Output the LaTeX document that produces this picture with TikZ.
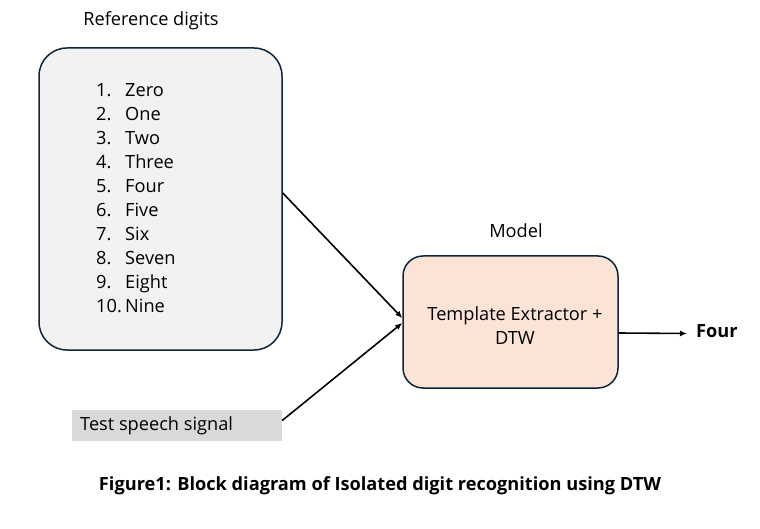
\documentclass[tikz,border=0pt]{standalone}
\usepackage{fontspec}
\setmainfont{Open Sans}
\usetikzlibrary{arrows.meta,calc}
\definecolor{edge}{HTML}{10253A}
\definecolor{refgray}{HTML}{F2F2F2}
\definecolor{peach}{HTML}{FBE3D6}
\definecolor{sig}{HTML}{D9D9D9}
\begin{document}
\begin{tikzpicture}[x=1pt,y=-1pt,
  box/.style={draw=edge,line width=1.5pt,rounded corners=28pt,inner sep=0pt},
  lbl/.style={font=\fontsize{18.2}{24}\selectfont,inner sep=0pt},
  arr/.style={line width=1.6pt,-{Latex[length=7pt,width=6pt]}}]
\useasboundingbox (0,0) rectangle (760,529);
\node[box,fill=refgray,minimum width=243pt,minimum height=302pt] (ref) at (160.5,199) {};
\node[lbl,anchor=base] (reft) at (151,25.5) {Reference digits};
\foreach \n/\w [count=\i from 0] in {1/Zero,2/One,3/Two,4/Three,5/Four,6/Five,7/Six,8/Seven,9/Eight,10/Nine}{
  \node[lbl,anchor=base west] (num\i) at (96,96.5+24*\i) {\n.};
  \node[lbl,anchor=base west] (w\i) at (125,96.5+24*\i) {\w};
}
\node[box,rounded corners=20pt,fill=peach,minimum width=215pt,minimum height=132pt] (model) at (510.5,322) {};
\node[lbl,anchor=base] (modelt) at (516,237.5) {Model};
\node[lbl,align=center] (mtext) at (515,325.5) {Template Extractor +\\DTW};
\node[fill=sig,minimum width=210pt,minimum height=31pt,inner sep=0pt] (test) at (177,425.5) {};
\node[lbl,anchor=west] (testt) at (80,425.5) {Test speech signal};
\node[lbl,font=\fontsize{18.2}{24}\selectfont\bfseries,anchor=west] (four) at (696,331.5) {Four};
\node[lbl,font=\fontsize{18.2}{24}\selectfont\bfseries,anchor=base] (cap) at (380,490.5) {Figure1: Block diagram of Isolated digit recognition using DTW};
\draw[arr] ($(ref.east)+(0,-6)$) -- ($(model.west)+(0,-4)$);
\draw[arr] ($(test.east)+(0,-5)$) -- ($(model.west)+(0,1)$);
\draw[arr] ($(model.east)+(0,11)$) -- ($(four.west)+(-9,2)$);
\end{tikzpicture}
\end{document}
